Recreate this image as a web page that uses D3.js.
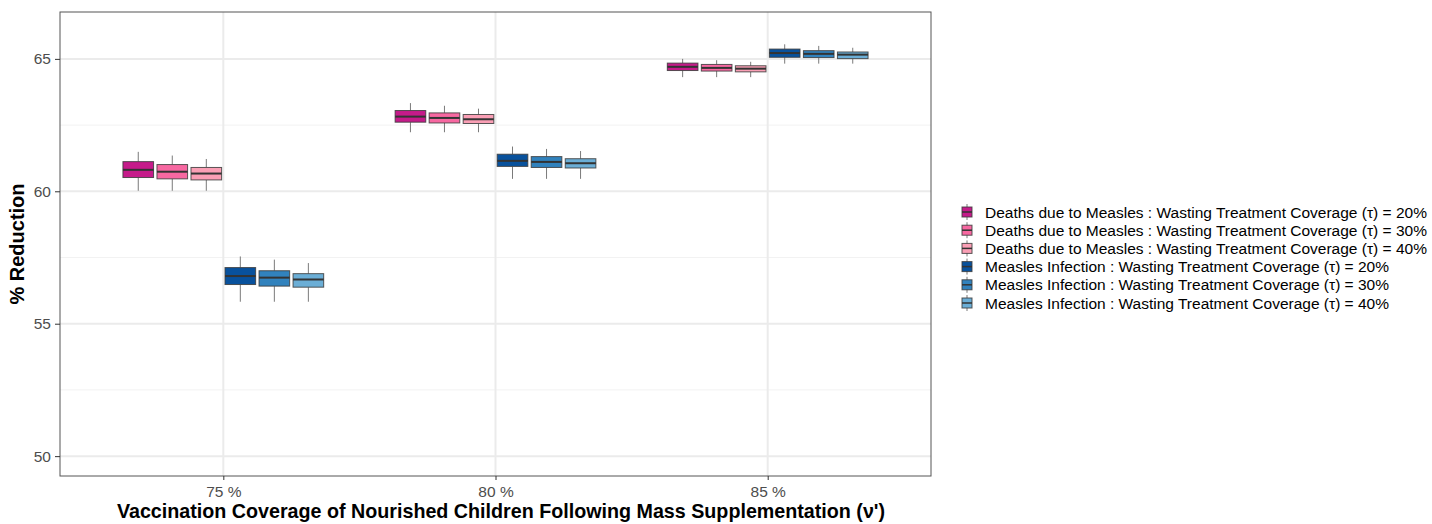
<!DOCTYPE html>
<html><head><meta charset="utf-8">
<script src="https://cdn.jsdelivr.net/npm/d3@7"></script>
<style>body{margin:0;background:#fff}svg{display:block;font-family:"Liberation Sans",Arial,sans-serif}</style>
</head><body><svg id="c" width="1432" height="524"></svg>
<script>
const categories = ["75 %", "80 %", "85 %"];
const seriesNames = [
  "Deaths due to Measles : Wasting Treatment Coverage (\u03C4) = 20%",
  "Deaths due to Measles : Wasting Treatment Coverage (\u03C4) = 30%",
  "Deaths due to Measles : Wasting Treatment Coverage (\u03C4) = 40%",
  "Measles Infection : Wasting Treatment Coverage (\u03C4) = 20%",
  "Measles Infection : Wasting Treatment Coverage (\u03C4) = 30%",
  "Measles Infection : Wasting Treatment Coverage (\u03C4) = 40%"
];
const seriesColors = ["#c51b8a", "#f768a1", "#fa9fb5", "#08519c", "#3182bd", "#6baed6"];
// per series, per category: [whiskerLow, q1, median, q3, whiskerHigh]
const deaths20 = [[60.02,60.52,60.81,61.12,61.49],[62.23,62.61,62.82,63.05,63.33],[64.31,64.56,64.70,64.84,65.00]];
const deaths30 = [[60.02,60.47,60.74,61.01,61.35],[62.23,62.58,62.77,62.96,63.23],[64.31,64.54,64.66,64.79,64.95]];
const deaths40 = [[60.02,60.43,60.67,60.90,61.22],[62.23,62.56,62.72,62.90,63.12],[64.31,64.51,64.63,64.74,64.89]];
const infect20 = [[55.83,56.48,56.80,57.12,57.54],[60.47,60.94,61.15,61.40,61.69],[64.82,65.06,65.22,65.37,65.55]];
const infect30 = [[55.83,56.42,56.74,57.00,57.42],[60.47,60.90,61.11,61.31,61.60],[64.82,65.05,65.19,65.31,65.49]];
const infect40 = [[55.83,56.38,56.67,56.89,57.29],[60.47,60.88,61.06,61.23,61.52],[64.82,65.01,65.16,65.26,65.42]];
const seriesValues = [deaths20, deaths30, deaths40, infect20, infect30, infect40];
const yTicks = [50, 55, 60, 65];
const yMinor = [52.5, 57.5, 62.5];

const svg = d3.select("#c");
const P = {l:60, t:12, r:931, b:476};
const x = d3.scaleLinear().domain([0.4, 3.6]).range([P.l, P.r]);
const y = d3.scaleLinear().domain([49.25, 66.77]).range([P.b, P.t]);

const g = svg.append("g");
// grid
g.selectAll(".ymin").data(yMinor).join("line")
  .attr("x1",P.l).attr("x2",P.r).attr("y1",d=>y(d)).attr("y2",d=>y(d))
  .attr("stroke","#f2f2f2").attr("stroke-width",1);
g.selectAll(".ymaj").data(yTicks).join("line")
  .attr("x1",P.l).attr("x2",P.r).attr("y1",d=>y(d)).attr("y2",d=>y(d))
  .attr("stroke","#ebebeb").attr("stroke-width",2);
g.selectAll(".xmaj").data(categories).join("line")
  .attr("x1",(d,i)=>x(i+1)).attr("x2",(d,i)=>x(i+1)).attr("y1",P.t).attr("y2",P.b)
  .attr("stroke","#ebebeb").attr("stroke-width",2);

// boxes
const dodge = 0.75, n = seriesNames.length, slot = dodge/n, bw = slot*0.9;
seriesValues.forEach((ser, s) => {
  const gs = g.append("g");
  ser.forEach((v, c) => {
    const cx = (c+1) - dodge/2 + slot*(s+0.5);
    const xc = x(cx), x0 = x(cx - bw/2), x1 = x(cx + bw/2);
    gs.append("line").attr("x1",xc).attr("x2",xc).attr("y1",y(v[4])).attr("y2",y(v[3])).attr("stroke","#7a7a7a").attr("stroke-width",1);
    gs.append("line").attr("x1",xc).attr("x2",xc).attr("y1",y(v[1])).attr("y2",y(v[0])).attr("stroke","#7a7a7a").attr("stroke-width",1);
    gs.append("rect").attr("x",x0).attr("width",x1-x0).attr("y",y(v[3])).attr("height",y(v[1])-y(v[3]))
      .attr("fill",seriesColors[s]).attr("stroke","#3c3c3c").attr("stroke-opacity",0.85).attr("stroke-width",1);
    gs.append("line").attr("x1",x0).attr("x2",x1).attr("y1",y(v[2])).attr("y2",y(v[2])).attr("stroke","#333").attr("stroke-width",2);
  });
});

// border
g.append("rect").attr("x",P.l).attr("y",P.t).attr("width",P.r-P.l).attr("height",P.b-P.t)
  .attr("fill","none").attr("stroke","#555").attr("stroke-width",1);

// axes
const yAxis = d3.axisLeft(y).tickValues(yTicks).tickSize(5).tickPadding(4);
const ya = svg.append("g").attr("transform",`translate(${P.l},0)`).call(yAxis);
const xAxis = d3.axisBottom(d3.scalePoint().domain(categories).range([x(1), x(3)])).tickSize(4).tickPadding(6);
const xa = svg.append("g").attr("transform",`translate(0,${P.b})`).call(xAxis);
[ya, xa].forEach(a => {
  a.attr("font-size", null).attr("font-family", null);
  a.select(".domain").remove();
  a.selectAll(".tick line").attr("stroke","#333");
  a.selectAll(".tick text").attr("fill","#4d4d4d").style("font-size","15.5px");
});

svg.append("text").attr("transform",`translate(24,${(P.t+P.b)/2}) rotate(-90)`).attr("text-anchor","middle")
  .style("font-size","20px").style("font-weight","bold").text("% Reduction");
svg.append("text").attr("x",501).attr("y",518).attr("text-anchor","middle")
  .style("font-size","19.7px").style("font-weight","bold")
  .text("Vaccination Coverage of Nourished Children Following Mass Supplementation (\u03BD')");

// legend
const lg = svg.append("g").attr("transform","translate(967,212)");
seriesNames.forEach((name, i) => {
  const r = lg.append("g").attr("transform",`translate(0,${i*18.2})`);
  r.append("line").attr("x1",0).attr("x2",0).attr("y1",-8).attr("y2",8).attr("stroke","#7a7a7a");
  r.append("rect").attr("x",-5).attr("y",-5).attr("width",10).attr("height",10)
    .attr("fill",seriesColors[i]).attr("stroke","#3c3c3c").attr("stroke-opacity",0.85);
  r.append("line").attr("x1",-5).attr("x2",5).attr("y1",0).attr("y2",0).attr("stroke","#333").attr("stroke-width",1.5);
  r.append("text").attr("x",18).attr("y",5.5).style("font-size","15.5px").attr("fill","#000").text(name);
});
</script></body></html>
